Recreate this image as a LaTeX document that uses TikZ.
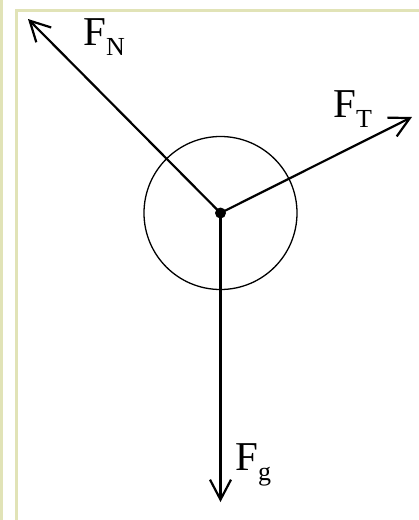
\documentclass[tikz,border=0pt]{standalone}
\usepackage{fontspec}
\setmainfont{Liberation Serif}
\usetikzlibrary{arrows.meta}
\definecolor{cornice}{RGB}{225,227,183}
\newcommand{\pedice}[1]{\raisebox{-10pt}{\fontsize{26}{26}\selectfont #1}}

\begin{document}
\begin{tikzpicture}[x=1pt, y=-1pt, font=\fontsize{41}{48}\selectfont,
  vettore/.style={line width=2.2pt, -{Straight Barb[length=20pt, width=21pt, line width=2.2pt]}},
  etichetta/.style={anchor=base west, inner sep=0pt}]
\useasboundingbox (0,0) rectangle (419,520);
% cornice della figura
\fill[cornice] (0,0) rectangle (3,520);
\fill[cornice] (15,8.5) rectangle (419,11.5);
\fill[cornice] (15,8.5) rectangle (18,520);
\coordinate (c) at (220.5,213);
\coordinate (tn) at (28,19);
\coordinate (tt) at (412,117);
\coordinate (tg) at (220.5,502);
\draw[line width=1.3pt] (c) circle (76.5);
\draw[vettore] (c) -- (tn);
\draw[vettore] (c) -- (tt);
\draw[vettore] (c) -- (tg);
\fill (c) circle (5.5);
\node[etichetta] (fn) at (83,45)  {F\pedice{N}};
\node[etichetta] (ft) at (333,117) {F\pedice{T}};
\node[etichetta] (fg) at (235,470) {F\pedice{g}};
\end{tikzpicture}
\end{document}
